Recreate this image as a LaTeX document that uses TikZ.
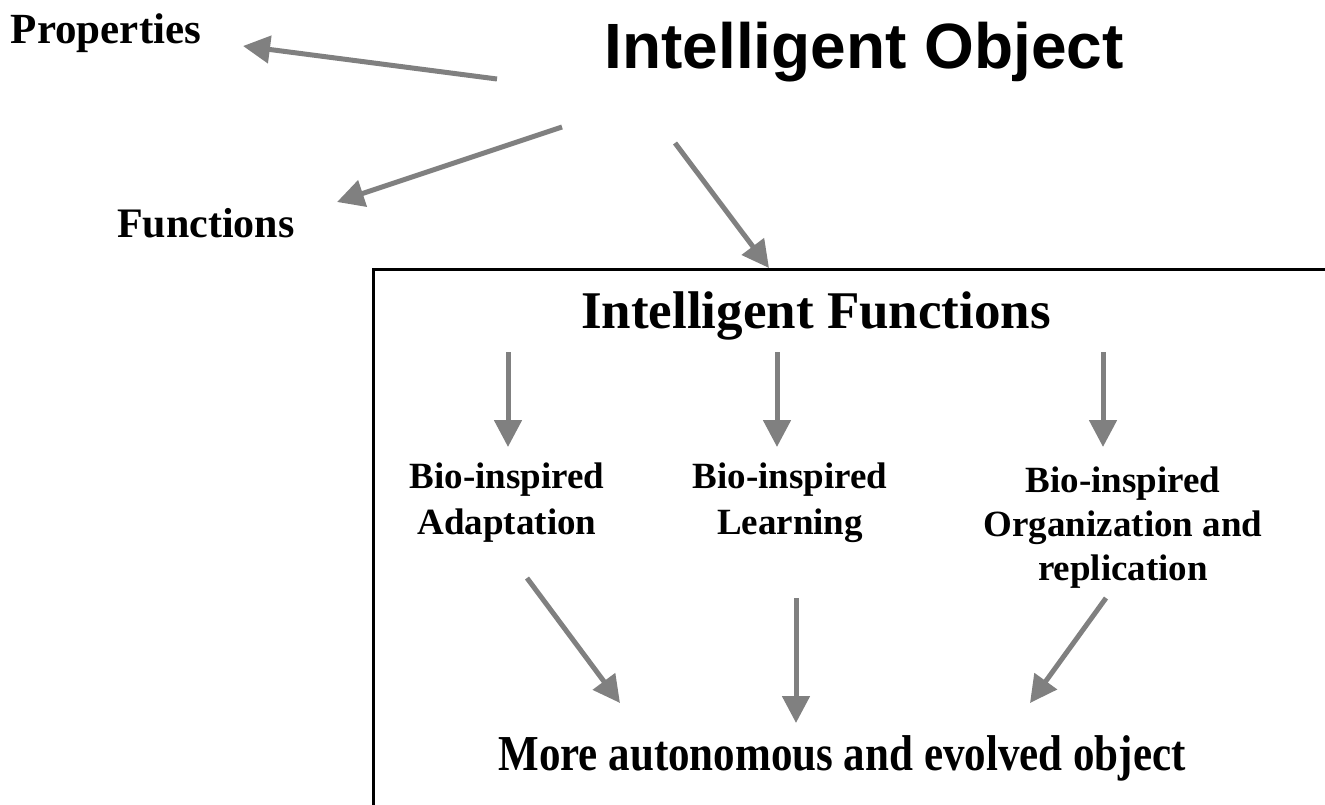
\documentclass[tikz,border=0pt]{standalone}
\usepackage{fontspec}
\setmainfont{Liberation Serif}
\newfontfamily\headsans{Liberation Sans}
\usetikzlibrary{arrows.meta}
\definecolor{arrowgray}{RGB}{128,128,128}
\tikzset{
  garrow/.style={draw=arrowgray, line width=5pt,
    -{Triangle[length=27pt,width=27pt]}},
  lbl/.style={inner sep=0pt, anchor=base, align=center},
  bio/.style={lbl, font=\bfseries\fontsize{37}{46}\selectfont},
}
\begin{document}
\begin{tikzpicture}[x=1pt,y=-1pt]
\clip (0,0) rectangle (1325,804);
\useasboundingbox (0,0) rectangle (1325,804);

% frame around the intelligent functions (open to the right and bottom)
\draw[line width=3pt] (373,820) -- (373,269.5) -- (1340,269.5);

% titles and labels (base anchor = baseline of the last line)
\node[lbl, font=\headsans\bfseries\fontsize{64}{70}\selectfont] (title) at (864,68) {Intelligent Object};
\node[lbl, font=\bfseries\fontsize{43}{46}\selectfont] (props) at (106,43) {Properties};
\node[lbl, font=\bfseries\fontsize{42}{46}\selectfont] (funcs) at (206,237) {Functions};
\node[lbl, font=\bfseries\fontsize{53}{58}\selectfont] (ifun) at (816,328) {Intelligent Functions};
\node[bio] (adapt) at (507,534) {Bio-inspired\\Adaptation};
\node[bio] (learn) at (790,534) {Bio-inspired\\Learning};
\node[bio, font=\bfseries\fontsize{37}{44}\selectfont] (organ) at (1123,580) {Bio-inspired\\Organization and\\replication};
\node[lbl, yscale=1.17, font=\bfseries\fontsize{43}{46}\selectfont] (result) at (842,770) {More autonomous and evolved object};

% arrow anchors
\coordinate (p0) at (497,79);   \coordinate (p1) at (243,46);
\coordinate (f0) at (562,127);  \coordinate (f1) at (337,202);
\coordinate (b0) at (675,143);  \coordinate (b1) at (769,268);
\coordinate (a0) at (508,352);  \coordinate (a1) at (508,447);
\coordinate (l0) at (777,352);  \coordinate (l1) at (777,447);
\coordinate (o0) at (1103,352); \coordinate (o1) at (1103,447);
\coordinate (x0) at (527,578);  \coordinate (x1) at (620,703);
\coordinate (y0) at (796,598);  \coordinate (y1) at (796,723);
\coordinate (z0) at (1106,598); \coordinate (z1) at (1030,703);

\draw[garrow] (p0) -- (p1);
\draw[garrow] (f0) -- (f1);
\draw[garrow] (b0) -- (b1);
\draw[garrow] (a0) -- (a1);
\draw[garrow] (l0) -- (l1);
\draw[garrow] (o0) -- (o1);
\draw[garrow] (x0) -- (x1);
\draw[garrow] (y0) -- (y1);
\draw[garrow] (z0) -- (z1);
\end{tikzpicture}
\end{document}
